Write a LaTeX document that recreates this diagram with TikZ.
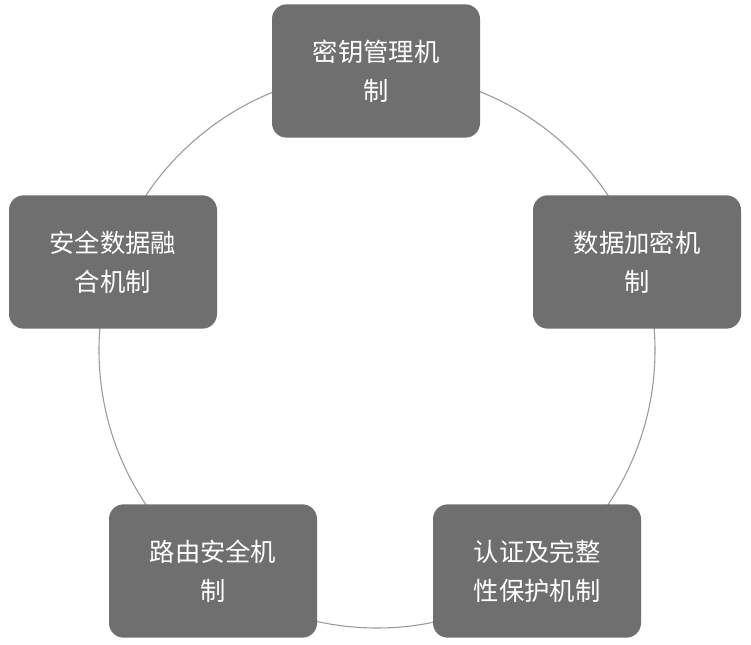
\documentclass[tikz,border=0pt]{standalone}
\usepackage{fontspec}
\newfontfamily\cjk{Noto Sans CJK SC}
\begin{document}
\begin{tikzpicture}[x=0.75pt,y=-0.75pt,
  box/.style={draw=none,fill=boxgray,rounded corners=11pt,minimum width=156pt,minimum height=100pt,text=white,align=center,font=\cjk\fontsize{19}{29}\selectfont,inner sep=0pt}]
\definecolor{boxgray}{HTML}{6F6F6F}
\definecolor{ringgray}{HTML}{9A9A9A}
\useasboundingbox (0,0) rectangle (751,645);
\fill[white] (0,0) rectangle (751,645);
\draw[ringgray,line width=0.8pt] (377,350) circle[radius=278];
\node[box] (a) at (376,71) {密钥管理机\\制};
\node[box] (b) at (637,262) {数据加密机\\制};
\node[box] (c) at (537,571) {认证及完整\\性保护机制};
\node[box] (d) at (213,571) {路由安全机\\制};
\node[box] (e) at (113,262) {安全数据融\\合机制};
\end{tikzpicture}
\end{document}
